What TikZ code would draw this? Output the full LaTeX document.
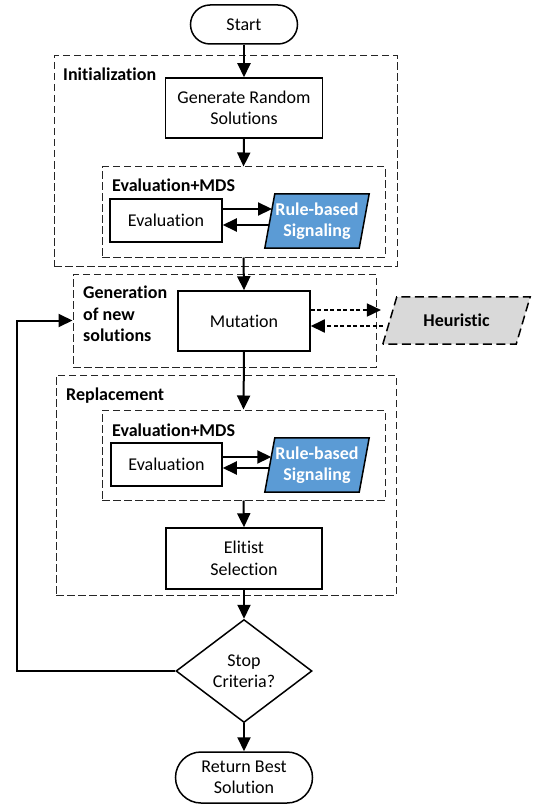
\documentclass[tikz,border=0pt]{standalone}
\usepackage{fontspec}
\setmainfont{Carlito}[Ligatures={CommonOff}]
\usetikzlibrary{arrows.meta,shapes.geometric,calc,backgrounds}
\definecolor{rbblue}{HTML}{5B9BD5}
\definecolor{hgray}{HTML}{D9D9D9}
\begin{document}
\begin{tikzpicture}[x=1pt,y=-1pt,
  font=\fontsize{18}{21.5}\selectfont,
  box/.style={draw, line width=1.5pt, rectangle, inner sep=0pt, align=center},
  dbox/.style={draw=black!85, line width=1pt, dash pattern=on 7.5pt off 3.5pt, inner sep=0pt},
  lbl/.style={font=\fontsize{18}{21.5}\selectfont\bfseries, anchor=base west, inner sep=0pt, align=left},
  rbtext/.style={inner sep=0pt, align=center, text=white, font=\fontsize{18}{21.5}\selectfont\bfseries, minimum width=94pt, minimum height=54pt},
  arr/.style={line width=2pt, -{Triangle[length=14pt,width=13pt]}},
  darr/.style={line width=1.8pt, dash pattern=on 4pt off 2.5pt, -{Triangle[length=14pt,width=13pt]}}
]
\useasboundingbox (0,0) rectangle (538,805);

% Start
\node[box, minimum width=107pt, minimum height=39pt, rounded corners=19.5pt] (start) at (244,24.5) {Start};

% Initialization
\node[dbox, minimum width=343pt, minimum height=210pt] (init) at (225.5,161) {};
\node[lbl] (initl) at (63,81) {Initialization};
\node[box, minimum width=157pt, minimum height=60pt] (gen) at (244,108) {Generate Random\\Solutions};
\node[dbox, minimum width=283pt, minimum height=90pt] (emds1) at (243.5,212) {};
\node[lbl] (emds1l) at (112,192) {Evaluation+MDS};
\node[box, minimum width=112pt, minimum height=43pt] (ev1) at (166,220.5) {Evaluation};
\node[rbtext] (rb1) at (317,221) {Rule-based\\Signaling};

% Generation of new solutions
\node[dbox, minimum width=303pt, minimum height=93pt] (genb) at (224.5,320.5) {};
\node[lbl, anchor=west] (genl) at (83,314) {Generation\\of new\\solutions};
\node[box, minimum width=132pt, minimum height=60pt] (mut) at (244,321) {Mutation};
\node[inner sep=0pt, minimum width=133pt, minimum height=47pt, font=\fontsize{18}{21.5}\selectfont\bfseries] (heur) at (456.5,320.5) {Heuristic};

% Replacement
\node[dbox, minimum width=340pt, minimum height=220pt] (repl) at (226,485) {};
\node[lbl] (repll) at (66,400) {Replacement};
\node[dbox, minimum width=283pt, minimum height=90pt] (emds2) at (243.5,455) {};
\node[lbl] (emds2l) at (112,436) {Evaluation+MDS};
\node[box, minimum width=111pt, minimum height=43pt] (ev2) at (166.5,464.5) {Evaluation};
\node[rbtext] (rb2) at (317,465) {Rule-based\\Signaling};
\node[box, minimum width=156pt, minimum height=61pt] (elit) at (244,558.5) {Elitist\\Selection};

% Decision and end
\node[diamond, draw, line width=1.5pt, inner sep=0pt, aspect=1.32, minimum width=136pt, minimum height=103pt, align=center] (dia) at (244,671) {Stop\\Criteria?};
\node[box, minimum width=137pt, minimum height=51pt, rounded corners=25.5pt] (ret) at (244,777.5) {Return Best\\Solution};

% Parallelograms behind their texts
\begin{scope}[on background layer]
\draw[line width=1.5pt, fill=rbblue] ([xshift=-5pt]rb1.south west) -- ([xshift=5pt]rb1.north west) -- ([xshift=5pt]rb1.north east) -- ([xshift=-5pt]rb1.south east) -- cycle;
\draw[line width=1.5pt, fill=rbblue] ([xshift=-5pt]rb2.south west) -- ([xshift=5pt]rb2.north west) -- ([xshift=5pt]rb2.north east) -- ([xshift=-5pt]rb2.south east) -- cycle;
\draw[line width=1.5pt, dash pattern=on 9pt off 4.5pt, fill=hgray] ([xshift=-7pt]heur.south west) -- ([xshift=7pt]heur.north west) -- ([xshift=7pt]heur.north east) -- ([xshift=-7pt]heur.south east) -- cycle;
\end{scope}

% Main flow
\draw[arr] (start.south) -- (gen.north);
\draw[arr] (gen.south) -- (emds1.north);
\draw[arr] (emds1.south) -- (mut.north);
\draw[arr] (mut.south) -- (emds2.north);
\draw[arr] (emds2.south) -- (elit.north);
\draw[arr] (elit.south) -- (dia.north);
\draw[arr] (dia.south) -- (ret.north);

% Evaluation <-> Rule-based (1)
\coordinate (e1u) at ([yshift=11.5pt]ev1.east);
\coordinate (e1d) at ([yshift=-4.5pt]ev1.east);
\coordinate (r1u) at ($([xshift=-5pt]rb1.south west)!0.722!([xshift=5pt]rb1.north west)$);
\coordinate (r1d) at ($([xshift=-5pt]rb1.south west)!0.426!([xshift=5pt]rb1.north west)$);
\draw[arr] (e1u) -- (r1u |- e1u);
\draw[arr] (r1d |- e1d) -- (e1d);

% Evaluation <-> Rule-based (2)
\coordinate (e2u) at ([yshift=7.5pt]ev2.east);
\coordinate (e2d) at ([yshift=-3.5pt]ev2.east);
\coordinate (r2u) at ($([xshift=-5pt]rb2.south west)!0.648!([xshift=5pt]rb2.north west)$);
\coordinate (r2d) at ($([xshift=-5pt]rb2.south west)!0.444!([xshift=5pt]rb2.north west)$);
\draw[arr] (e2u) -- (r2u |- e2u);
\draw[arr] (r2d |- e2d) -- (e2d);

% Mutation <-> Heuristic
\coordinate (m1) at ([yshift=11pt]mut.east);
\coordinate (m2) at ([yshift=-5pt]mut.east);
\coordinate (h1) at ($([xshift=-7pt]heur.south west)!0.723!([xshift=7pt]heur.north west)+(-12,0)$);
\coordinate (h2) at ($([xshift=-7pt]heur.south west)!0.383!([xshift=7pt]heur.north west)+(-5,0)$);
\draw[darr] (m1) -- (h1 |- m1);
\draw[darr] (h2 |- m2) -- (m2);

% Feedback loop
\coordinate (fbx) at (17,671);
\draw[arr] (dia.west) -- (fbx) |- (genb.west);
\end{tikzpicture}
\end{document}
